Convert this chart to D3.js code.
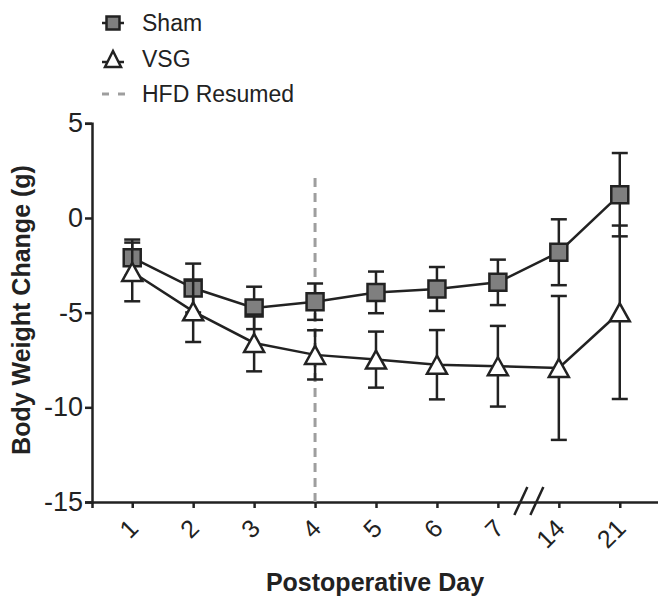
<!DOCTYPE html>
<html>
<head>
<meta charset="utf-8">
<script src="https://cdn.jsdelivr.net/npm/d3@7"></script>
<style>
  body { margin: 0; background: #fff; }
  text { font-family: "Liberation Sans", Arial, sans-serif; fill: #222; }
</style>
</head>
<body>
<div id="chart-area"></div>
<script>
// data (mean, SEM)
const days = ["1", "2", "3", "4", "5", "6", "7", "14", "21"];
const shamMean = [-2.1, -3.7, -4.75, -4.42, -3.93, -3.75, -3.4, -1.81, 1.23];
const shamErr = [0.96, 1.29, 1.12, 0.96, 1.1, 1.16, 1.2, 1.74, 2.2];
const vsgMean = [-2.85, -4.93, -6.6, -7.23, -7.48, -7.75, -7.83, -7.92, -4.98];
const vsgErr = [1.55, 1.62, 1.5, 1.3, 1.48, 1.83, 2.13, 3.8, 4.58];
const yTicks = [5, 0, -5, -10, -15];
const hfdDay = "4";
const hfdRange = [-15, 2.3];

const W = 658, H = 597;
const ink = "#222";

const svg = d3.select("#chart-area").append("svg")
    .attr("width", W)
    .attr("height", H);

const x = d3.scalePoint()
    .domain(days)
    .range([92, 660])
    .padding(0.66);

const y = d3.scaleLinear()
    .domain([-15, 5])
    .range([502, 123.3]);

// axes
const xAxis = svg.append("g")
    .attr("transform", `translate(0, ${y(-15)})`)
    .call(d3.axisBottom(x).tickSizeOuter(0).tickSize(6).tickPadding(0));
xAxis.select(".domain").attr("stroke", ink).attr("stroke-width", 2.5);
xAxis.selectAll(".tick line").attr("stroke", ink).attr("stroke-width", 2.5);
xAxis.selectAll(".tick text")
    .attr("text-anchor", "end")
    .attr("font-size", 25)
    .attr("fill", ink)
    .attr("y", 0)
    .attr("dy", 0)
    .attr("transform", "translate(7, 28) rotate(-45)");

const yAxis = svg.append("g")
    .attr("transform", `translate(92, 0)`)
    .call(d3.axisLeft(y).tickValues(yTicks).tickFormat(d => String(d))
        .tickSizeOuter(0).tickSize(7).tickPadding(2));
yAxis.select(".domain").attr("stroke", ink).attr("stroke-width", 2.5);
yAxis.selectAll(".tick line").attr("stroke", ink).attr("stroke-width", 2.5);
yAxis.selectAll(".tick text")
    .attr("font-size", 27)
    .attr("fill", ink);

// axis break between 7 and 14
const bx = (x("7") + x("14")) / 2;
const by = y(-15);
[-8, 8].forEach(off => {
    svg.append("line")
        .attr("x1", bx + off - 6).attr("y1", by + 13)
        .attr("x2", bx + off + 7).attr("y2", by - 15)
        .attr("stroke", ink)
        .attr("stroke-width", 2.5);
});

// axis titles
svg.append("text")
    .attr("x", 375)
    .attr("y", 591)
    .attr("text-anchor", "middle")
    .attr("font-size", 25)
    .attr("font-weight", "bold")
    .text("Postoperative Day");

svg.append("text")
    .attr("transform", "translate(30, 310) rotate(-90)")
    .attr("text-anchor", "middle")
    .attr("font-size", 25)
    .attr("font-weight", "bold")
    .text("Body Weight Change (g)");

// HFD resumed line
svg.append("line")
    .attr("x1", x(hfdDay)).attr("x2", x(hfdDay))
    .attr("y1", y(hfdRange[0])).attr("y2", y(hfdRange[1]))
    .attr("stroke", "#9e9e9e")
    .attr("stroke-width", 3)
    .attr("stroke-dasharray", "9,6");

const squarePath = s => `M${-s / 2},${-s / 2}h${s}v${s}h${-s}Z`;
const triPath = (w, h) => `M0,${-h / 2}L${w / 2},${h / 2}L${-w / 2},${h / 2}Z`;

function drawSeries(mean, err, shape, fill) {
    const pts = days.map((d, i) => ({ day: d, m: mean[i], e: err[i] }));
    const g = svg.append("g");

    g.append("path")
        .datum(pts)
        .attr("fill", "none")
        .attr("stroke", ink)
        .attr("stroke-width", 2.5)
        .attr("d", d3.line().x(d => x(d.day)).y(d => y(d.m)));

    const bars = g.selectAll(".bar").data(pts).enter().append("g");
    bars.append("line")
        .attr("x1", d => x(d.day)).attr("x2", d => x(d.day))
        .attr("y1", d => y(d.m + d.e)).attr("y2", d => y(d.m - d.e))
        .attr("stroke", ink).attr("stroke-width", 2.5);
    [1, -1].forEach(sign => {
        bars.append("line")
            .attr("x1", d => x(d.day) - 8).attr("x2", d => x(d.day) + 8)
            .attr("y1", d => y(d.m + sign * d.e)).attr("y2", d => y(d.m + sign * d.e))
            .attr("stroke", ink).attr("stroke-width", 2.5);
    });

    g.selectAll(".mark").data(pts).enter().append("path")
        .attr("transform", d => `translate(${x(d.day)}, ${y(d.m)})`)
        .attr("d", shape)
        .attr("fill", fill)
        .attr("stroke", ink)
        .attr("stroke-width", 2.5);
}

drawSeries(shamMean, shamErr, squarePath(17), "#7f7f7f");
drawSeries(vsgMean, vsgErr, triPath(20, 18), "#fff");

// legend
const lg = svg.append("g");
const legendRows = [
    { label: "Sham", y: 23, kind: "square" },
    { label: "VSG", y: 59, kind: "tri" },
    { label: "HFD Resumed", y: 94, kind: "dash" }
];
legendRows.forEach(r => {
    if (r.kind === "dash") {
        [[102, 109], [118, 125]].forEach(seg => {
            lg.append("line")
                .attr("x1", seg[0]).attr("x2", seg[1])
                .attr("y1", r.y).attr("y2", r.y)
                .attr("stroke", "#9e9e9e").attr("stroke-width", 3);
        });
    } else {
        const ly = r.y + (r.kind === "tri" ? 3 : 0);
        lg.append("line")
            .attr("x1", 102).attr("x2", 124)
            .attr("y1", ly).attr("y2", ly)
            .attr("stroke", ink).attr("stroke-width", 2.5);
        lg.append("path")
            .attr("transform", `translate(113, ${r.y})`)
            .attr("d", r.kind === "square" ? squarePath(13) : triPath(16, 16))
            .attr("fill", r.kind === "square" ? "#7f7f7f" : "#fff")
            .attr("stroke", ink).attr("stroke-width", 2.5);
    }
    lg.append("text")
        .attr("x", 142)
        .attr("y", r.y + 8)
        .attr("font-size", 23)
        .attr("fill", "#333")
        .text(r.label);
});
</script>
</body>
</html>
